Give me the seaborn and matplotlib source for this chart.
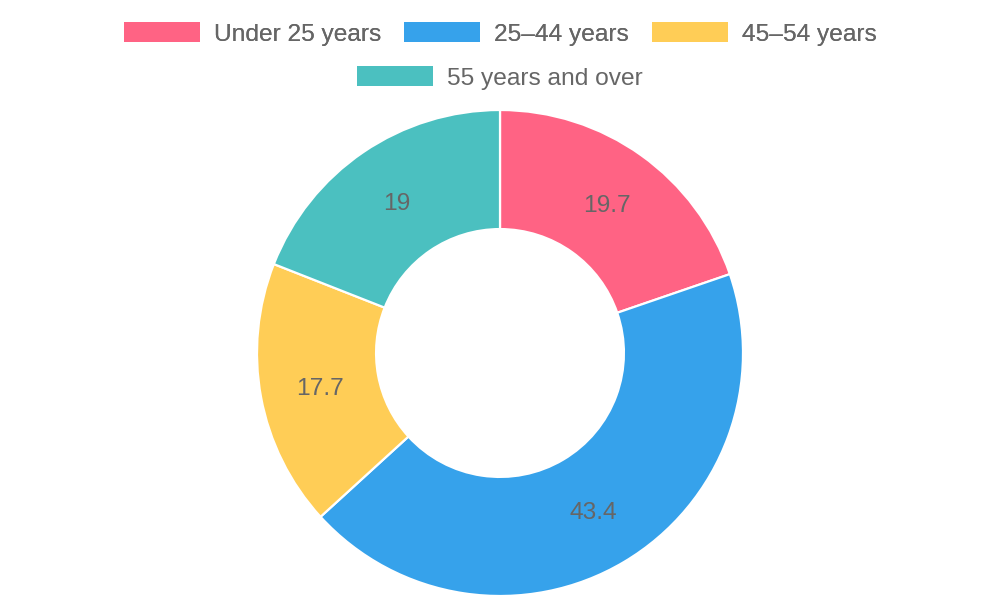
import numpy as np
import pandas as pd
import matplotlib
matplotlib.use('Agg')
import matplotlib.pyplot as plt
import seaborn as sns
from matplotlib.patches import Patch

# Data
categories = ['Under 25 years', '25\u201344 years', '45\u201354 years', '55 years and over']
values = [19.7, 43.4, 17.7, 19]
colors = ['#FF6384', '#36A2EB', '#FFCD56', '#4BC0C0']

sns.set_theme(style='white')
plt.rcParams['font.family'] = ['Liberation Sans', 'DejaVu Sans']

fs = 24.5 * 72 / 100  # ~24 px text at dpi 100
text_color = '#666666'

fig = plt.figure(figsize=(10, 6), dpi=100)
fig.patch.set_facecolor('white')

# donut: centre (500, 353) px from top, outer radius 243 px
ax = fig.add_axes([257 / 1000, 4 / 600, 486 / 1000, 486 / 600])
labels = [f'{v:g}' for v in values]
wedges, texts = ax.pie(values, labels=labels, colors=colors, startangle=90,
                       counterclock=False, radius=1, labeldistance=0.755,
                       wedgeprops=dict(width=0.49, edgecolor='white', linewidth=1.6),
                       textprops=dict(fontsize=fs, color=text_color))
for t in texts:
    t.set_ha('center')
    t.set_va('center_baseline')
ax.set_xlim(-1, 1)
ax.set_ylim(-1, 1)
ax.set_aspect('equal')
ax.axis('off')

# legend: two centered rows like the original
handles = [Patch(facecolor=c, edgecolor='none') for c in colors]
common = dict(frameon=False, fontsize=fs, labelcolor=text_color,
              handlelength=3.1, handleheight=0.82, handletextpad=0.57,
              columnspacing=0.94, borderpad=0, borderaxespad=0)
leg1 = fig.legend(handles[:3], categories[:3], ncol=3, loc='center',
                  bbox_to_anchor=(0.5, 1 - 34 / 600), **common)
fig.add_artist(leg1)
fig.legend(handles[3:], categories[3:], ncol=1, loc='center',
           bbox_to_anchor=(0.5, 1 - 78 / 600), **common)

fig.savefig('out.png', dpi=100)
